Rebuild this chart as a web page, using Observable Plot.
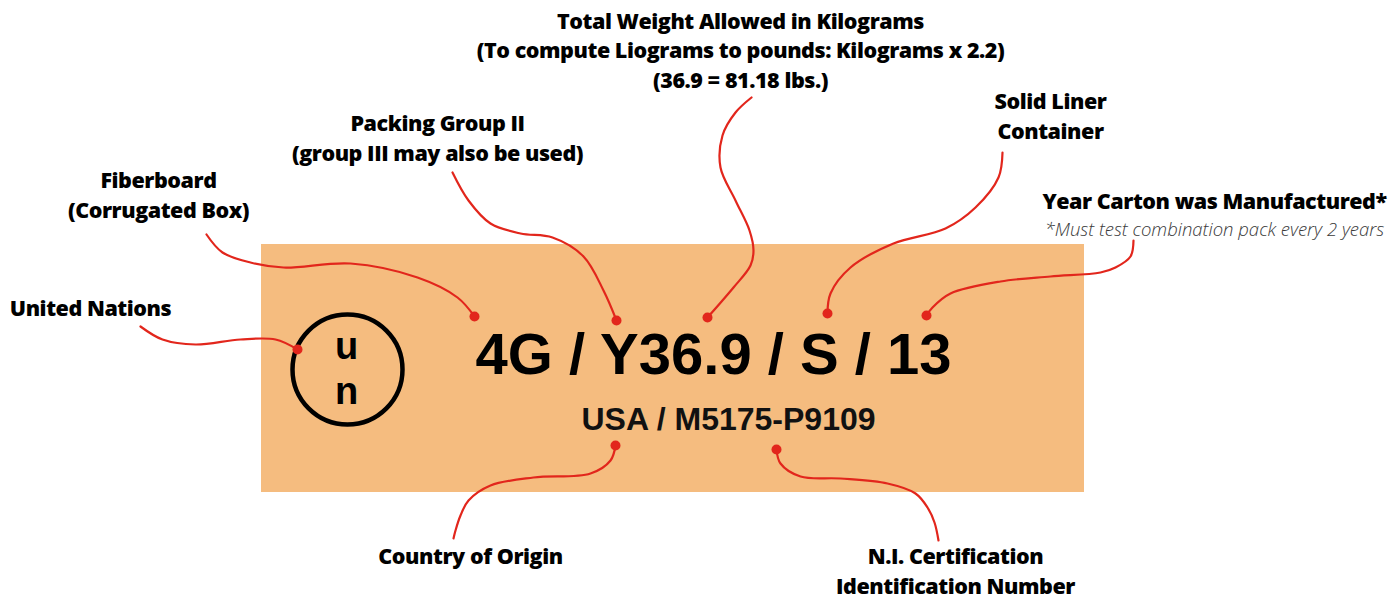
<!DOCTYPE html>
<html>
<head>
<meta charset="utf-8">
<script src="https://cdn.jsdelivr.net/npm/d3@7"></script>
<script src="https://cdn.jsdelivr.net/npm/@observablehq/plot@0.6"></script>
<style>
  html, body { margin: 0; padding: 0; background: #ffffff; }
  #chart svg { display: block; }
  .lbl text { letter-spacing: -0.45px; }
</style>
</head>
<body>
<div id="chart"></div>
<script>
// ---- Data (diagram content) ----
const codeMain = "4G / Y36.9 / S / 13";
const codeSub = "USA / M5175-P9109";
const unLetters = ["u", "n"];

const labelTexts = [
  "United Nations",
  "Fiberboard\n(Corrugated Box)",
  "Packing Group II\n(group III may also be used)",
  "Total Weight Allowed in Kilograms\n(To compute Liograms to pounds: Kilograms x 2.2)\n(36.9 = 81.18 lbs.)",
  "Solid Liner\nContainer",
  "Year Carton was Manufactured*",
  "Country of Origin",
  "N.I. Certification\nIdentification Number"
];
const labelX = [90, 158, 437, 740, 1050, 1214, 470, 955];
const labelY = [315, 217, 160, 87, 138, 208, 563, 593];

const noteText = "*Must test combination pack every 2 years";

// leader lines: one polyline per label, ending at a dot
const leaderPaths = [
  [[140,326],[162,339],[195,344],[240,339],[275,339],[297,349]],
  [[206,234],[222,252],[250,262],[283,267],[350,263],[417,277],[457,297],[474,316]],
  [[452,172],[468,200],[490,223],[520,233],[552,237],[583,256],[603,290],[616,320]],
  [[751,97],[735,112],[722,135],[720,167],[735,200],[749,230],[753,250],[750,265],[733,287],[707,317]],
  [[1002,152],[998,177],[975,207],[945,228],[893,243],[850,267],[830,293],[827,313]],
  [[1133,240],[1130,256],[1115,267],[1100,272],[1050,276],[1000,281],[950,293],[932,307],[926,315]],
  [[615,445],[610,460],[590,473],[533,477],[490,485],[468,500],[460,515],[455,530],[453,538]],
  [[776,449],[780,463],[800,476],[840,478],[887,483],[915,493],[927,507],[934,522],[938,540]]
];

const panel = [{x1: 261, x2: 1084, y1: 244, y2: 492}];
const unCircle = [{x: 347, y: 369}];

// ---- Build ----
const leaderRows = leaderPaths.flatMap((p, i) => p.map(([x, y]) => ({id: i, x, y})));
const dotRows = leaderPaths.map((p, i) => {
  const [x, y] = i === 6 || i === 7 ? p[0] : p[p.length - 1];
  return {x, y};
});
const labels = labelTexts.map((t, i) => ({text: t, x: labelX[i], y: labelY[i]}));

const RED = "#e2261c";
const labelFont = "'Open Sans', Lato, sans-serif";
const codeFont = "'Liberation Sans', Arial, Helvetica, sans-serif";

const chart = Plot.plot({
  width: 1397,
  height: 600,
  margin: 0,
  x: {domain: [0, 1397], range: [0, 1397], axis: null},
  y: {domain: [0, 600], range: [0, 600], axis: null},
  style: {background: "#ffffff"},
  marks: [
    Plot.rect(panel, {x1: "x1", x2: "x2", y1: "y1", y2: "y2", fill: "#f5bc7f"}),
    Plot.dot(unCircle, {x: "x", y: "y", r: 55, stroke: "#000", strokeWidth: 4.5, fill: "none"}),
    Plot.text([unLetters[0]], {x: 346, y: 358, text: d => d, fontFamily: codeFont, fontWeight: "bold", fontSize: 38, lineAnchor: "bottom", fill: "#000"}),
    Plot.text([unLetters[1]], {x: 346, y: 403, text: d => d, fontFamily: codeFont, fontWeight: "bold", fontSize: 38, lineAnchor: "bottom", fill: "#000"}),
    Plot.text([codeMain], {x: 713, y: 373, text: d => d, fontFamily: codeFont, fontWeight: "bold", fontSize: 58, lineAnchor: "bottom", fill: "#000"}),
    Plot.text([codeSub], {x: 728, y: 429, text: d => d, fontFamily: codeFont, fontWeight: "bold", fontSize: 32, lineAnchor: "bottom", fill: "#111"}),
    Plot.line(leaderRows, {x: "x", y: "y", z: "id", stroke: RED, strokeWidth: 2.2, curve: "catmull-rom"}),
    Plot.dot(dotRows, {x: "x", y: "y", r: 5, fill: RED}),
    Plot.text(labels, {x: "x", y: "y", text: "text", className: "lbl", fontFamily: labelFont, fontWeight: 800, fontSize: 21.5, lineHeight: 1.36, lineAnchor: "bottom", textAnchor: "middle", fill: "#000"}),
    Plot.text([noteText], {x: 1214, y: 235, text: d => d, fontFamily: labelFont, fontStyle: "italic", fontWeight: 300, fontSize: 18.5, lineAnchor: "bottom", fill: "#3a3a3a"})
  ]
});
document.getElementById("chart").appendChild(chart);
</script>
</body>
</html>
